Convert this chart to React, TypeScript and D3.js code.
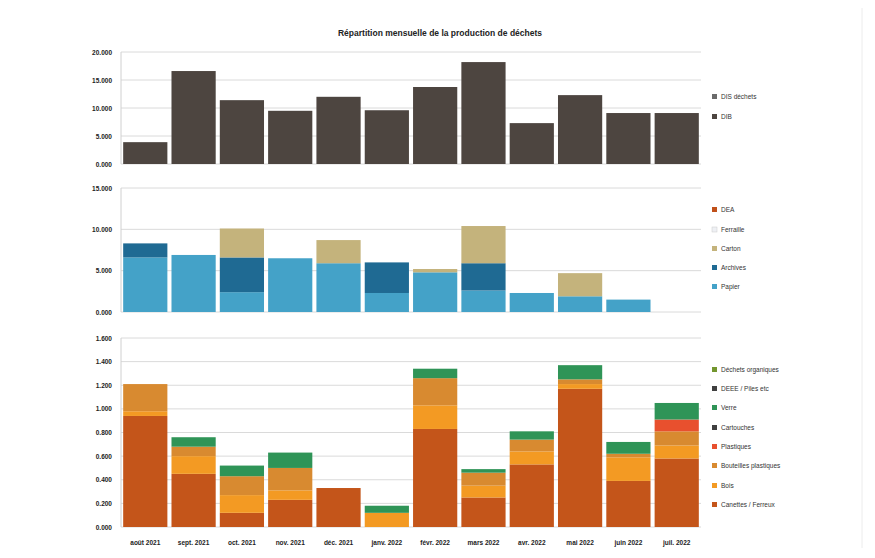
import React from "react";
import * as d3 from "d3";

const months = ["août 2021","sept. 2021","oct. 2021","nov. 2021","déc. 2021","janv. 2022","févr. 2022","mars 2022","avr. 2022","mai 2022","juin 2022","juil. 2022"];

// Top panel (stack order bottom -> top)
const topNames = ["DIB", "DIS déchets"];
const dib = [3.9,16.6,11.4,9.5,12.0,9.6,13.75,18.2,7.3,12.3,9.1,9.1];
const dis = [0,0,0,0,0,0,0,0,0,0,0,0];
const topTicks = [0,5,10,15,20];

// Middle panel (stack order bottom -> top)
const midNames = ["Papier","Archives","Carton","Ferraille","DEA"];
const papier = [6.6,6.9,2.4,6.5,5.9,2.3,4.8,2.6,2.3,1.9,1.5,0];
const archives = [1.7,0,4.2,0,0,3.7,0,3.3,0,0,0,0];
const carton = [0,0,3.5,0,2.8,0,0.4,4.5,0,2.8,0,0];
const ferraille = [0,0,0,0,0,0,0,0,0,0,0,0];
const dea = [0,0,0,0,0,0,0,0,0,0,0,0];
const midTicks = [0,5,10,15];

// Bottom panel (stack order bottom -> top)
const botNames = ["Canettes / Ferreux","Bois","Bouteilles plastiques","Plastiques","Cartouches","Verre","DEEE / Piles etc","Déchets organiques"];
const canettes = [0.94,0.45,0.12,0.23,0.33,0,0.83,0.25,0.53,1.17,0.39,0.58];
const bois = [0.04,0.15,0.15,0.08,0,0.12,0.20,0.10,0.11,0.04,0.20,0.11];
const bouteilles = [0.23,0.08,0.16,0.19,0,0,0.23,0.11,0.10,0.04,0.03,0.12];
const plastiques = [0,0,0,0,0,0,0,0,0,0,0,0.10];
const cartouches = [0,0,0,0,0,0,0,0,0,0,0,0];
const verre = [0,0.08,0.09,0.13,0,0.06,0.08,0.03,0.07,0.12,0.10,0.14];
const deee = [0,0,0,0,0,0,0,0,0,0,0,0];
const organiques = [0,0,0,0,0,0,0,0,0,0,0,0];
const botTicks = [0,0.2,0.4,0.6,0.8,1.0,1.2,1.4,1.6];

const topColors = ["#4d4540", "#6b6b6b"];
const midColors = ["#44a2c8", "#1f6a93", "#c4b37c", "#eef0f4", "#c0501a"];
const botColors = ["#c4551a", "#f39a23", "#d88a30", "#e8502e", "#404040", "#2f9457", "#404040", "#73962e"];

const x0 = 121, x1 = 701;
const FONT = "'Liberation Sans', Arial, sans-serif";

type Panel = {
  series: number[][];
  names: string[];
  colors: string[];
  ticks: number[];
  yTop: number;
  yBot: number;
  legendY: number[];
};

const panels: Panel[] = [
  { series: [dib, dis], names: topNames, colors: topColors, ticks: topTicks, yTop: 52, yBot: 164, legendY: [117, 97] },
  { series: [papier, archives, carton, ferraille, dea], names: midNames, colors: midColors, ticks: midTicks, yTop: 188, yBot: 312, legendY: [287, 268, 249, 230, 210] },
  { series: [canettes, bois, bouteilles, plastiques, cartouches, verre, deee, organiques], names: botNames, colors: botColors, ticks: botTicks, yTop: 338, yBot: 527, legendY: [505, 486, 466, 447, 428, 408, 389, 370] },
];

export default function App() {
  const xScale = d3.scaleBand<string>().domain(months).range([x0, x1]).paddingInner(0.085).paddingOuter(0.045);
  const fmt = (v: number) => v.toFixed(3);

  return (
    <svg width={875} height={558} style={{ position: "absolute", left: 0, top: 0, background: "#fff" }} fontFamily={FONT}>
      <rect x={0} y={0} width={875} height={558} fill="#fff" />
      <line x1={862} x2={862} y1={8} y2={548} stroke="#ececec" />
      <text x={440} y={36} textAnchor="middle" fontSize={8.5} fontWeight="bold" fill="#222">
        Répartition mensuelle de la production de déchets
      </text>
      {panels.map((p, pi) => {
        const maxT = p.ticks[p.ticks.length - 1];
        const y = d3.scaleLinear().domain([0, maxT]).range([p.yBot, p.yTop]);
        const keys = p.series.map((_, i) => "s" + i);
        const rows = months.map((m, j) => {
          const r: any = { m };
          p.series.forEach((s, i) => (r["s" + i] = s[j]));
          return r;
        });
        const stacked = d3.stack().keys(keys)(rows);
        return (
          <g key={pi}>
            {p.ticks.map((t) => (
              <g key={t}>
                <line x1={x0} x2={x1} y1={y(t)} y2={y(t)} stroke="#dadada" strokeWidth={1} />
                <text x={112} y={y(t) + 2.5} textAnchor="end" fontSize={6.5} fontWeight="bold" fill="#222">
                  {fmt(t)}
                </text>
              </g>
            ))}
            <line x1={x0} x2={x0} y1={p.yTop} y2={p.yBot} stroke="#d0d0d0" />
            {stacked.map((layer, li) =>
              layer.map((d: any, j: number) => {
                const h = y(d[0]) - y(d[1]);
                if (h <= 0) return null;
                return (
                  <rect key={li + "-" + j} x={xScale(months[j])} y={y(d[1])} width={xScale.bandwidth()} height={h} fill={p.colors[li]} />
                );
              })
            )}
            {p.names.map((n, i) => (
              <g key={n}>
                <rect x={712} y={p.legendY[i] - 3} width={5} height={5} fill={p.colors[i]} stroke={p.colors[i] === "#eef0f4" ? "#ccc" : "none"} strokeWidth={0.5} />
                <text x={721} y={p.legendY[i] + 2} fontSize={6.5} fill="#333">
                  {n}
                </text>
              </g>
            ))}
          </g>
        );
      })}
      {months.map((m) => (
        <text key={m} x={(xScale(m) as number) + xScale.bandwidth() / 2} y={545} textAnchor="middle" fontSize={6.5} fontWeight="bold" fill="#222">
          {m}
        </text>
      ))}
    </svg>
  );
}
